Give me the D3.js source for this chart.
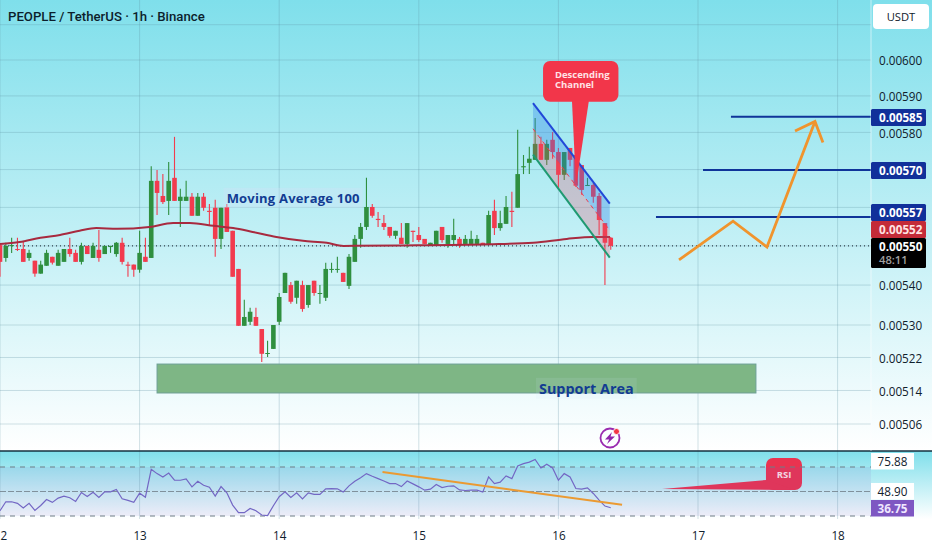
<!DOCTYPE html>
<html>
<head>
<meta charset="utf-8">
<script src="https://cdn.jsdelivr.net/npm/d3@7"></script>
<style>
html,body{margin:0;padding:0;background:#fff;overflow:hidden;}
svg{display:block;}
text{font-family:"Open Sans",sans-serif;}
</style>
</head>
<body>
<script>
// hourly candles, prices are in 0.00001 USDT. first candle is day 12 00:00
var opens = [550.2,546.9,550.0,549.2,549.2,546.9,546.2,542.9,544.9,547.2,544.9,545.9,549.2,548.2,545.9,550.0,546.9,549.0,547.9,549.7,547.9,550.8,545.2,545.2,
543.9,547.2,546.9,567.0,563.0,561.7,567.8,561.7,561.7,562.8,557.8,562.8,559.1,559.9,551.8,560.1,553.9,544.1,529.8,530.8,532.0,529.0,522.9,524.1,
530.8,538.0,540.0,536.8,540.0,535.0,541.1,537.9,536.8,543.9,543.9,543.1,539.8,545.9,551.8,554.9,560.1,557.0,555.9,554.9,552.6,552.1,550.5,553.9,
552.8,551.8,550.2,550.2,554.9,550.5,551.5,551.8,550.5,550.5,550.5,550.8,550.2,559.1,554.6,555.7,559.1,559.9,570.6,571.8,572.6,576.9,572.6,578.0,
574.7,568.6,575.8,573.9,571.2,565.7,565.9,563.0,555.9,552.1];
var highs = [550.2,550.8,552.1,552.1,551.0,549.0,546.2,546.2,549.0,547.2,549.0,549.2,552.1,549.0,550.8,550.0,550.8,554.1,550.0,550.0,551.0,552.1,545.9,545.2,
553.9,552.1,570.9,569.9,568.8,572.0,578.8,564.9,567.0,563.8,563.8,563.8,560.9,562.0,559.9,560.9,553.9,544.1,536.3,534.3,534.3,529.0,526.1,530.0,
538.0,543.1,540.8,541.1,541.1,540.0,541.1,540.0,545.7,545.7,547.2,543.1,547.9,552.8,555.9,567.8,560.9,558.8,558.0,554.9,553.9,555.9,555.9,553.9,
554.9,551.8,550.8,553.9,554.9,552.8,557.0,552.3,552.8,553.9,552.8,550.8,559.1,562.0,559.1,563.0,564.1,580.7,573.9,576.1,583.9,578.8,578.0,580.1,
575.8,574.7,575.8,573.9,571.2,567.8,566.4,563.8,555.9,552.3];
var lows = [542.1,545.9,548.2,548.7,545.9,546.2,542.1,542.9,544.9,545.2,544.9,545.9,547.2,545.9,545.2,547.9,546.9,545.9,547.9,548.2,547.2,545.2,542.1,542.1,
543.1,545.9,546.9,558.0,560.9,558.0,561.7,554.9,561.7,557.8,557.8,559.1,555.4,547.2,549.2,553.6,542.1,529.8,529.8,530.0,529.8,520.9,522.1,524.1,
530.0,538.0,535.3,535.3,533.3,534.3,537.3,535.3,536.0,543.1,543.1,540.8,539.0,545.9,549.5,554.1,557.3,554.9,554.1,552.1,551.8,550.5,549.5,551.0,
551.0,550.5,550.2,550.2,550.8,549.5,550.5,549.5,550.5,550.5,550.5,550.2,550.2,552.8,553.9,555.7,554.9,559.9,568.8,568.8,572.6,572.6,571.2,572.9,
565.1,567.2,570.9,565.4,563.3,565.7,561.2,552.8,540.0,549.0];
var closes = [545.9,550.0,550.2,549.0,545.9,548.2,542.9,545.2,548.2,545.7,548.2,549.2,547.9,545.9,550.0,547.9,550.0,546.9,550.0,550.0,550.8,545.9,544.9,543.9,
548.2,545.9,567.0,563.8,561.4,567.0,561.7,562.8,562.8,557.8,562.8,559.9,558.8,551.8,559.9,553.6,542.1,529.8,532.0,533.3,529.8,522.9,523.1,530.0,
537.0,543.1,535.8,541.1,534.0,540.0,538.0,538.0,544.1,544.1,544.1,540.8,547.2,551.8,554.9,560.1,557.8,556.7,554.9,552.6,553.9,550.5,555.9,553.6,
551.5,550.5,550.8,553.9,551.5,552.8,552.8,550.2,551.8,551.8,551.8,550.2,558.0,554.6,555.9,560.1,558.8,568.8,570.9,572.9,576.9,572.6,576.9,574.7,
568.6,574.7,572.6,565.7,564.6,565.9,562.8,556.7,550.8,550.0];

// moving average 100, read at a few points
var maDays = [12.00,12.14,12.29,12.43,12.57,12.69,12.84,13.07,13.24,13.36,13.53,13.67,13.81,13.98,14.17,14.34,14.46,14.87,15.50,15.82,16.06,16.25,16.37];
var maValues = [550.5,551.0,552.1,552.8,553.9,554.6,554.4,554.9,555.9,555.9,555.2,554.6,553.6,552.3,551.3,550.8,550.0,550.1,550.4,550.8,551.8,552.3,552.3];

// rsi, one value per candle
var rsiValues = [34.3,41.6,41.6,40.3,36.5,40.3,34.6,38.6,43.5,41.1,44.6,46.2,44.9,41.9,49.2,45.9,49.4,45.1,49.7,49.7,51.6,44.0,42.7,41.1,
48.6,45.4,68.1,64.6,61.9,65.1,59.2,59.2,60.3,53.8,58.4,55.1,53.5,46.2,54.0,48.9,38.9,32.7,32.7,36.2,34.3,30.8,30.3,38.4,
45.7,49.7,45.1,48.9,44.0,48.9,47.6,47.6,52.2,52.4,52.2,49.5,54.6,58.4,61.3,64.6,62.4,60.5,58.6,56.5,56.5,54.0,58.6,56.2,
53.8,51.1,51.9,55.7,53.2,54.3,54.6,51.3,50.8,51.1,51.1,49.5,61.9,56.5,57.6,62.7,60.5,70.8,72.7,74.0,76.2,69.2,72.2,69.2,
59.2,64.6,61.9,52.4,51.9,53.0,48.4,43.0,38.1,36.75];
var rsiBands = [70,50,30];

var priceTicks = [610,600,590,580,570,560,550,540,530,522,514,506];
var labelTicks = [600,590,580,560,540,530,522,514,506];
var dayTicks = [12,13,14,15,16,17,18];

// drawings on the chart
var channelDays = [15.818,16.368];
var channelTop = [588.0,561.0];
var channelMid = [581.0,554.0];
var channelBottom = [574.0,547.0];
var forecastDays = [16.864,17.251,17.494,17.838];
var forecastPrices = [546.4,556.4,549.7,583.0];
var arrowDays = [17.695,17.838,17.895];
var arrowPrices = [580.4,583.0,577.3];
var levelStarts = [17.236,17.036,16.699];
var levelPrices = [584.3,569.9,557.5];
var levelLabels = ["0.00585","0.00570","0.00557"];
var supportDays = [13.125,17.415];
var supportPrices = [520.4,513.4];
var trendDays = [14.74,16.456];
var trendRsi = [65.9,39.2];

var width = 932;
var height = 550;
var plotRight = 871;
var paneBottom = 451;

var x = d3.scaleLinear().domain([12,18]).range([0,837.6]);
var y = d3.scaleLog().domain([600,506]).range([60,424]);
var rsiY = d3.scaleLinear().domain([30,70]).range([516,467]);
var candleX = function(i){ return x(12 + i/24); };

var svg = d3.select("body").append("svg").attr("width",width).attr("height",height);
var defs = svg.append("defs");

var g1 = defs.append("linearGradient").attr("id","paneBg").attr("x1",0).attr("x2",0).attr("y1",0).attr("y2",1);
g1.append("stop").attr("offset","0%").attr("stop-color","#7fdfeb");
g1.append("stop").attr("offset","100%").attr("stop-color","#ffffff");
var g2 = defs.append("linearGradient").attr("id","rsiBg").attr("x1",0).attr("x2",0).attr("y1",0).attr("y2",1);
g2.append("stop").attr("offset","0%").attr("stop-color","#7fdfeb");
g2.append("stop").attr("offset","100%").attr("stop-color","#ffffff");
defs.append("clipPath").attr("id","plotClip").append("rect").attr("width",plotRight).attr("height",height);

svg.append("rect").attr("width",width).attr("height",paneBottom).attr("fill","url(#paneBg)");
svg.append("rect").attr("y",paneBottom).attr("width",width).attr("height",68).attr("fill","url(#rsiBg)");

var plot = svg.append("g").attr("clip-path","url(#plotClip)");

// grid
plot.selectAll(".vgrid").data(dayTicks).enter().append("line")
    .attr("x1",x).attr("x2",x).attr("y1",0).attr("y2",519)
    .attr("stroke","#5f8fa3").attr("stroke-opacity",0.28);
plot.selectAll(".hgrid").data(priceTicks).enter().append("line")
    .attr("x1",0).attr("x2",plotRight).attr("y1",function(d){ return y(d); }).attr("y2",function(d){ return y(d); })
    .attr("stroke","#5f8fa3").attr("stroke-opacity",0.28);

// support box goes under the candles
plot.append("rect")
    .attr("x",x(supportDays[0])).attr("width",x(supportDays[1])-x(supportDays[0]))
    .attr("y",y(supportPrices[0])).attr("height",y(supportPrices[1])-y(supportPrices[0]))
    .attr("fill","#7eb685").attr("stroke","#6d9f95").attr("stroke-width",1);

// last price line
plot.append("line").attr("x1",0).attr("x2",plotRight).attr("y1",y(550)).attr("y2",y(550))
    .attr("stroke","#14212b").attr("stroke-width",1).attr("stroke-dasharray","1,3");

// candles
var greenCol = "#2f8f3f";
var redCol = "#f23b4e";
var candleCol = function(i){ return closes[i] >= opens[i] ? greenCol : redCol; };
var candles = plot.selectAll(".candle").data(opens).enter().append("g");
candles.append("line")
    .attr("x1",function(d,i){ return candleX(i); }).attr("x2",function(d,i){ return candleX(i); })
    .attr("y1",function(d,i){ return y(highs[i]); }).attr("y2",function(d,i){ return y(lows[i]); })
    .attr("stroke",function(d,i){ return candleCol(i); }).attr("stroke-width",1.1);
candles.append("rect")
    .attr("x",function(d,i){ return candleX(i)-2.3; }).attr("width",4.6)
    .attr("y",function(d,i){ return y(Math.max(opens[i],closes[i])); })
    .attr("height",function(d,i){ return Math.max(1,Math.abs(y(opens[i])-y(closes[i]))); })
    .attr("fill",function(d,i){ return candleCol(i); });

// moving average
var maLine = d3.line().x(function(d){ return x(d); }).y(function(d,i){ return y(maValues[i]); }).curve(d3.curveMonotoneX);
plot.append("path").attr("d",maLine(maDays)).attr("fill","none").attr("stroke","#a82a3f").attr("stroke-width",2);

// channel
var cx0 = x(channelDays[0]), cx1 = x(channelDays[1]);
plot.append("path")
    .attr("d","M"+cx0+","+y(channelTop[0])+"L"+cx1+","+y(channelTop[1])+"L"+cx1+","+y(channelMid[1])+"L"+cx0+","+y(channelMid[0])+"Z")
    .attr("fill","#2f7fe8").attr("fill-opacity",0.32);
plot.append("path")
    .attr("d","M"+cx0+","+y(channelMid[0])+"L"+cx1+","+y(channelMid[1])+"L"+cx1+","+y(channelBottom[1])+"L"+cx0+","+y(channelBottom[0])+"Z")
    .attr("fill","#e8526a").attr("fill-opacity",0.27);
plot.append("line").attr("x1",cx0).attr("x2",cx1).attr("y1",y(channelMid[0])).attr("y2",y(channelMid[1]))
    .attr("stroke","#f23b4e").attr("stroke-width",1).attr("stroke-dasharray","4,4");
plot.append("line").attr("x1",cx0).attr("x2",cx1).attr("y1",y(channelTop[0])).attr("y2",y(channelTop[1]))
    .attr("stroke","#2148d8").attr("stroke-width",2);
plot.append("line").attr("x1",cx0).attr("x2",cx1).attr("y1",y(channelBottom[0])).attr("y2",y(channelBottom[1]))
    .attr("stroke","#1f9a72").attr("stroke-width",2);

// horizontal target lines
plot.selectAll(".level").data(levelPrices).enter().append("line")
    .attr("x1",function(d,i){ return x(levelStarts[i]); }).attr("x2",plotRight)
    .attr("y1",function(d){ return y(d); }).attr("y2",function(d){ return y(d); })
    .attr("stroke","#0f3499").attr("stroke-width",2);

// orange forecast
var fLine = d3.line().x(function(d){ return x(d); }).y(function(d,i){ return y(forecastPrices[i]); });
plot.append("path").attr("d",fLine(forecastDays)).attr("fill","none").attr("stroke","#f0942d").attr("stroke-width",2.8);
var aLine = d3.line().x(function(d){ return x(d); }).y(function(d,i){ return y(arrowPrices[i]); });
plot.append("path").attr("d",aLine(arrowDays)).attr("fill","none").attr("stroke","#f0942d").attr("stroke-width",2.8);

// labels on chart
function haloLabel(txt,px,py,size){
    var t = plot.append("text").attr("x",px).attr("y",py).attr("text-anchor","middle")
        .attr("font-size",size).attr("font-weight",700).attr("fill","#123b92").text(txt);
    return t;
}
function addHalo(t,op){
    var b = t.node().getBBox();
    plot.insert("rect","text").attr("x",b.x-3).attr("y",b.y-1).attr("width",b.width+6).attr("height",b.height+2)
        .attr("fill","#cfe3f7").attr("fill-opacity",op);
    plot.node().appendChild(t.node());
}
addHalo(haloLabel("Moving Average 100",x(14.1),y(562.5)+5,13).attr("letter-spacing",0.2),0.35);
addHalo(haloLabel("Support Area",x(16.2),y(514.4)+5,14.4),0.12);

// red callouts
var calloutRed = "#f2364a";
plot.append("rect").attr("x",x(15.89)).attr("width",x(16.43)-x(15.89)).attr("y",y(599.7)).attr("height",y(588.4)-y(599.7))
    .attr("rx",7).attr("fill",calloutRed);
plot.append("path").attr("d","M"+x(16.097)+","+y(588.8)+"L"+x(16.219)+","+y(588.8)+"L"+x(16.126)+","+y(565.7)+"Z").attr("fill",calloutRed);
plot.append("text").attr("x",x(15.975)).attr("y",y(595)).attr("font-size",9.5).attr("font-weight",700).attr("fill","#ffe3e6")
    .selectAll("tspan").data(["Descending","Channel"]).enter().append("tspan")
    .attr("x",x(15.975)).attr("dy",function(d,i){ return i ? 10 : 0; }).text(function(d){ return d; });

plot.append("rect").attr("x",x(17.487)).attr("width",x(17.745)-x(17.487)).attr("y",rsiY(77.3)).attr("height",rsiY(51.2)-rsiY(77.3))
    .attr("rx",7).attr("fill","#ea3350");
plot.append("path").attr("d","M"+x(17.487)+","+rsiY(59.4)+"L"+x(16.742)+","+rsiY(52)+"L"+x(17.7)+","+rsiY(51.2)+"Z").attr("fill","#ea3350");
plot.append("text").attr("x",x(17.616)).attr("y",rsiY(61)).attr("text-anchor","middle").attr("font-size",9.5).attr("font-weight",700)
    .attr("fill","#ffe3e6").text("RSI");

// rsi pane
plot.append("rect").attr("x",0).attr("width",plotRight).attr("y",rsiY(70)).attr("height",rsiY(30)-rsiY(70))
    .attr("fill","#7e57c2").attr("fill-opacity",0.1);
plot.selectAll(".band").data(rsiBands).enter().append("line")
    .attr("x1",0).attr("x2",plotRight).attr("y1",rsiY).attr("y2",rsiY)
    .attr("stroke","#6f7c86").attr("stroke-width",function(d){ return d==50 ? 0.8 : 1.2; })
    .attr("stroke-dasharray",function(d){ return d==50 ? "6,2" : "5,5"; });
var rsiLine = d3.line().x(function(d,i){ return candleX(i); }).y(function(d){ return rsiY(d); });
plot.append("path").attr("d",rsiLine(rsiValues)).attr("fill","none").attr("stroke","#7367c4").attr("stroke-width",1.2);
plot.append("line").attr("x1",x(trendDays[0])).attr("x2",x(trendDays[1])).attr("y1",rsiY(trendRsi[0])).attr("y2",rsiY(trendRsi[1]))
    .attr("stroke","#eb9a32").attr("stroke-width",2);

// pane separator
svg.append("line").attr("x1",0).attr("x2",width).attr("y1",paneBottom).attr("y2",paneBottom).attr("stroke","#14303f").attr("stroke-width",1.4);
svg.append("line").attr("x1",plotRight).attr("x2",plotRight).attr("y1",0).attr("y2",paneBottom).attr("stroke","#ffffff").attr("stroke-opacity",0.55);

// axes
var priceAxis = d3.axisRight(y).tickValues(labelTicks)
    .tickFormat(function(d){ return (d/100000).toFixed(5); }).tickSize(0).tickPadding(8);
var gy = svg.append("g").attr("transform","translate("+plotRight+",1)").call(priceAxis);
gy.select(".domain").remove();
gy.selectAll("text").attr("font-size",11.7).attr("fill","#10202c").attr("font-family","Open Sans");

var dayAxis = d3.axisBottom(x).tickValues(dayTicks).tickFormat(d3.format("d")).tickSize(0).tickPadding(0);
var gx = svg.append("g").attr("transform","translate(0,532)").call(dayAxis);
gx.select(".domain").remove();
gx.selectAll("text").attr("font-size",11.7).attr("fill","#10202c").attr("font-family","Open Sans");

// axis tags
var tagX = plotRight;
var tagW = 55;
function priceTag(txt,yTop,h,col,fg){
    svg.append("rect").attr("x",tagX).attr("y",yTop).attr("width",tagW).attr("height",h).attr("rx",1.5).attr("fill",col);
    svg.append("text").attr("x",tagX+8).attr("y",yTop+12.5).attr("font-size",11.7).attr("font-weight",700).attr("fill",fg).text(txt);
}
priceTag(levelLabels[0],109,17,"#11309a","#fff");
priceTag(levelLabels[1],162,17,"#11309a","#fff");
priceTag(levelLabels[2],204,17,"#11309a","#fff");
priceTag("0.00552",221,17,"#c42b38","#ffe3e3");
priceTag("0.00550",238,30,"#000000","#fff");
svg.append("text").attr("x",tagX+8).attr("y",264).attr("font-size",11.2).attr("font-weight",600).attr("fill","#a0a0a0").text("48:11");

function rsiTag(val,yTop,col,fg){
    svg.append("rect").attr("x",tagX).attr("y",yTop).attr("width",43).attr("height",16.5).attr("fill",col);
    svg.append("text").attr("x",tagX+21.5).attr("y",yTop+12.5).attr("text-anchor","middle").attr("font-size",11.7)
        .attr("font-weight",col=="#7e57c2" ? 700 : 400).attr("fill",fg).text(val);
}
rsiTag("75.88",453,"#ffffff","#10202c");
rsiTag("48.90",483,"#ffffff","#10202c");
rsiTag("36.75",500,"#7e57c2","#f0e8ff");

// USDT box
svg.append("rect").attr("x",873).attr("y",4).attr("width",56).attr("height",25).attr("rx",4).attr("fill","#fff");
svg.append("text").attr("x",901).attr("y",21).attr("text-anchor","middle").attr("font-size",11.2).attr("fill","#10202c").text("USDT");

// title
svg.append("text").attr("x",8).attr("y",20.5).attr("font-size",13.2).attr("font-weight",500).attr("style","font-family:Roboto").attr("fill","#0c1e2c").text("PEOPLE / TetherUS · 1h · Binance");

// lightning icon
var icon = svg.append("g").attr("transform","translate(610,438)");
icon.append("circle").attr("r",9.5).attr("fill","none").attr("stroke","#9a2bb0").attr("stroke-width",1.8);
icon.append("path").attr("d","M2,-6L-5,1.5L-0.8,1.5L-3,6L5,-1.5L0.5,-1.5Z").attr("fill","#8e24aa");
icon.append("circle").attr("cx",6.5).attr("cy",-6.5).attr("r",3).attr("fill","#f23645").attr("stroke","#fff").attr("stroke-width",0.8);
</script>
</body>
</html>
